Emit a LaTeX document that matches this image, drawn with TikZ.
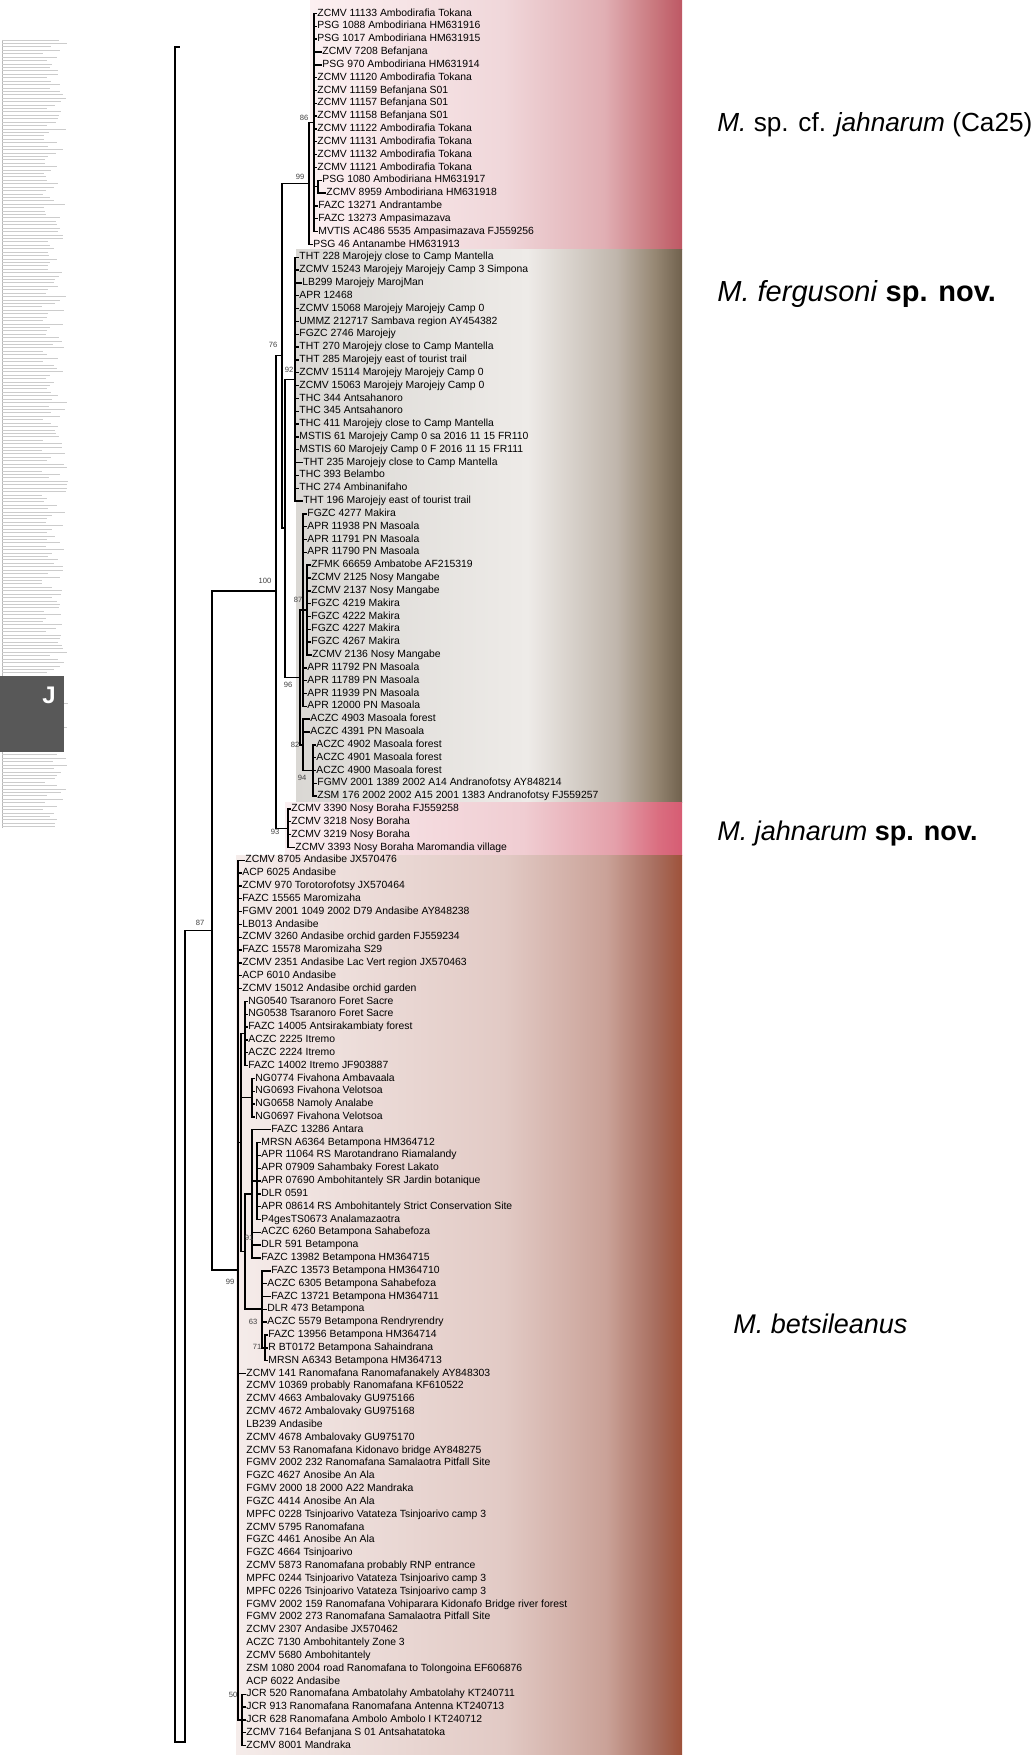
\documentclass[tikz,border=0pt]{standalone}
\usepackage{fontspec}
\setmainfont{Liberation Sans}

\definecolor{caA}{RGB}{252,240,241}
\definecolor{caB}{RGB}{240,215,218}
\definecolor{caC}{RGB}{225,175,180}
\definecolor{caD}{RGB}{202,122,128}
\definecolor{caE}{RGB}{190,88,100}
\definecolor{feA}{RGB}{218,216,212}
\definecolor{feB}{RGB}{238,235,232}
\definecolor{feC}{RGB}{192,182,172}
\definecolor{feD}{RGB}{150,135,115}
\definecolor{feE}{RGB}{112,97,77}
\definecolor{jaA}{RGB}{250,238,240}
\definecolor{jaB}{RGB}{240,205,210}
\definecolor{jaC}{RGB}{228,160,170}
\definecolor{jaD}{RGB}{218,110,128}
\definecolor{jaE}{RGB}{214,92,115}
\definecolor{beA}{RGB}{245,236,234}
\definecolor{beB}{RGB}{226,202,197}
\definecolor{beC}{RGB}{202,162,152}
\definecolor{beD}{RGB}{168,110,95}
\definecolor{beE}{RGB}{158,82,58}
\definecolor{jgray}{RGB}{88,88,88}

\pgfdeclarehorizontalshading{bandCa}{100bp}{color(0bp)=(caA); color(25bp)=(caA); color(51bp)=(caB); color(64.5bp)=(caC); color(71bp)=(caD); color(75bp)=(caE); color(100bp)=(caE)}
\pgfdeclarehorizontalshading{bandFe}{100bp}{color(0bp)=(feA); color(25bp)=(feA); color(55bp)=(feB); color(66.5bp)=(feC); color(71.5bp)=(feD); color(75bp)=(feE); color(100bp)=(feE)}
\pgfdeclarehorizontalshading{bandJa}{100bp}{color(0bp)=(jaA); color(25bp)=(jaA); color(55bp)=(jaB); color(66.5bp)=(jaC); color(72bp)=(jaD); color(75bp)=(jaE); color(100bp)=(jaE)}
\pgfdeclarehorizontalshading{bandBe}{100bp}{color(0bp)=(beA); color(25bp)=(beA); color(55bp)=(beB); color(66.5bp)=(beC); color(72bp)=(beD); color(75bp)=(beE); color(100bp)=(beE)}

\begin{document}
\begin{tikzpicture}[x=0.5pt, y=-0.5pt,
          taxon/.style={anchor=west, inner sep=0.5pt, text height=3.6pt, text depth=1pt, font=\fontsize{5.2}{6}\selectfont},
          branch/.style={line width=0.7pt, line cap=rect},
          support/.style={inner sep=0pt, font=\fontsize{3.8}{4}\selectfont, text=black!75},
          clade/.style={anchor=west, inner sep=0pt, font=\fontsize{13.5}{15}\selectfont},
          thumb/.style={draw=gray!40, line width=0.35pt}]

        \useasboundingbox (0,0) rectangle (1033,1755);

        \shade [shading=bandCa] (310,0) rectangle (682,250);
        \shade [shading=bandFe] (296,250) rectangle (682,802);
        \shade [shading=bandJa] (285,802) rectangle (682,855);
        \shade [shading=bandBe] (236,855) rectangle (682,1755);

        \draw [thumb, draw=gray!55] (2,40) -- (2,828);
        \pgfmathsetseed{11}
        \foreach \k in {0,...,230} {
          \pgfmathsetmacro{\tl}{40+26*rnd}
          \draw [thumb] (2,{40+\k*3.42}) -- ++(\tl,0);
        }
        \fill [jgray] (0,676) rectangle (64,752);
        \node [font=\bfseries\fontsize{12}{12}\selectfont, text=white] (jmark) at (49,695) {J};

        \foreach \lx/\txt [count=\i] in {
          316/ZCMV 11133 Ambodirafia Tokana, 316/PSG 1088 Ambodiriana HM631916, 316/PSG 1017 Ambodiriana HM631915,
          321/ZCMV 7208 Befanjana, 321/PSG 970 Ambodiriana HM631914, 316/ZCMV 11120 Ambodirafia Tokana,
          316/ZCMV 11159 Befanjana S01, 316/ZCMV 11157 Befanjana S01, 316/ZCMV 11158 Befanjana S01,
          316/ZCMV 11122 Ambodirafia Tokana, 316/ZCMV 11131 Ambodirafia Tokana, 316/ZCMV 11132 Ambodirafia Tokana,
          316/ZCMV 11121 Ambodirafia Tokana, 321/PSG 1080 Ambodiriana HM631917, 325/ZCMV 8959 Ambodiriana HM631918,
          317/FAZC 13271 Andrantambe, 317/FAZC 13273 Ampasimazava, 317/MVTIS AC486 5535 Ampasimazava FJ559256,
          312/PSG 46 Antanambe HM631913,
          298/THT 228 Marojejy close to Camp Mantella, 298/ZCMV 15243 Marojejy Marojejy Camp 3 Simpona,
          301/LB299 Marojejy MarojMan, 298/APR 12468, 298/ZCMV 15068 Marojejy Marojejy Camp 0,
          298/UMMZ 212717 Sambava region AY454382, 298/FGZC 2746 Marojejy, 298/THT 270 Marojejy close to Camp Mantella,
          298/THT 285 Marojejy east of tourist trail, 298/ZCMV 15114 Marojejy Marojejy Camp 0,
          298/ZCMV 15063 Marojejy Marojejy Camp 0, 298/THC 344 Antsahanoro, 298/THC 345 Antsahanoro,
          298/THC 411 Marojejy close to Camp Mantella, 298/MSTIS 61 Marojejy Camp 0 sa 2016 11 15 FR110,
          298/MSTIS 60 Marojejy Camp 0 F 2016 11 15 FR111, 302/THT 235 Marojejy close to Camp Mantella,
          298/THC 393 Belambo, 298/THC 274 Ambinanifaho, 302/THT 196 Marojejy east of tourist trail,
          306/FGZC 4277 Makira, 306/APR 11938 PN Masoala, 306/APR 11791 PN Masoala, 306/APR 11790 PN Masoala,
          310/ZFMK 66659 Ambatobe AF215319, 310/ZCMV 2125 Nosy Mangabe, 310/ZCMV 2137 Nosy Mangabe,
          310/FGZC 4219 Makira, 310/FGZC 4222 Makira, 310/FGZC 4227 Makira, 310/FGZC 4267 Makira,
          311/ZCMV 2136 Nosy Mangabe, 306/APR 11792 PN Masoala, 306/APR 11789 PN Masoala,
          306/APR 11939 PN Masoala, 306/APR 12000 PN Masoala, 309/ACZC 4903 Masoala forest,
          309/ACZC 4391 PN Masoala, 315/ACZC 4902 Masoala forest, 315/ACZC 4901 Masoala forest,
          315/ACZC 4900 Masoala forest, 316/FGMV 2001 1389 2002 A14 Andranofotsy AY848214,
          316/ZSM 176 2002 2002 A15 2001 1383 Andranofotsy FJ559257,
          290/ZCMV 3390 Nosy Boraha FJ559258, 290/ZCMV 3218 Nosy Boraha, 290/ZCMV 3219 Nosy Boraha,
          294/ZCMV 3393 Nosy Boraha Maromandia village,
          244/ZCMV 8705 Andasibe JX570476, 241/ACP 6025 Andasibe, 241/ZCMV 970 Torotorofotsy JX570464,
          241/FAZC 15565 Maromizaha, 241/FGMV 2001 1049 2002 D79 Andasibe AY848238, 241/LB013 Andasibe,
          241/ZCMV 3260 Andasibe orchid garden FJ559234, 241/FAZC 15578 Maromizaha S29,
          241/ZCMV 2351 Andasibe Lac Vert region JX570463, 241/ACP 6010 Andasibe, 241/ZCMV 15012 Andasibe orchid garden,
          247/NG0540 Tsaranoro Foret Sacre, 247/NG0538 Tsaranoro Foret Sacre, 247/FAZC 14005 Antsirakambiaty forest,
          247/ACZC 2225 Itremo, 247/ACZC 2224 Itremo, 247/FAZC 14002 Itremo JF903887,
          254/NG0774 Fivahona Ambavaala, 254/NG0693 Fivahona Velotsoa, 254/NG0658 Namoly Analabe,
          254/NG0697 Fivahona Velotsoa, 270/FAZC 13286 Antara, 260/MRSN A6364 Betampona HM364712,
          260/APR 11064 RS Marotandrano Riamalandy, 260/APR 07909 Sahambaky Forest Lakato,
          260/APR 07690 Ambohitantely SR Jardin botanique, 260/DLR 0591,
          260/APR 08614 RS Ambohitantely Strict Conservation Site, 260/P4gesTS0673 Analamazaotra,
          260/ACZC 6260 Betampona Sahabefoza, 260/DLR 591 Betampona, 260/FAZC 13982 Betampona HM364715,
          270/FAZC 13573 Betampona HM364710, 266/ACZC 6305 Betampona Sahabefoza, 270/FAZC 13721 Betampona HM364711,
          266/DLR 473 Betampona, 266/ACZC 5579 Betampona Rendryrendry, 267/FAZC 13956 Betampona HM364714,
          267/R BT0172 Betampona Sahaindrana, 267/MRSN A6343 Betampona HM364713,
          245/ZCMV 141 Ranomafana Ranomafanakely AY848303, 245/ZCMV 10369 probably Ranomafana KF610522,
          245/ZCMV 4663 Ambalovaky GU975166, 245/ZCMV 4672 Ambalovaky GU975168, 245/LB239 Andasibe,
          245/ZCMV 4678 Ambalovaky GU975170, 245/ZCMV 53 Ranomafana Kidonavo bridge AY848275,
          245/FGMV 2002 232 Ranomafana Samalaotra Pitfall Site, 245/FGZC 4627 Anosibe An Ala,
          245/FGMV 2000 18 2000 A22 Mandraka, 245/FGZC 4414 Anosibe An Ala,
          245/MPFC 0228 Tsinjoarivo Vatateza Tsinjoarivo camp 3, 245/ZCMV 5795 Ranomafana,
          245/FGZC 4461 Anosibe An Ala, 245/FGZC 4664 Tsinjoarivo, 245/ZCMV 5873 Ranomafana probably RNP entrance,
          245/MPFC 0244 Tsinjoarivo Vatateza Tsinjoarivo camp 3, 245/MPFC 0226 Tsinjoarivo Vatateza Tsinjoarivo camp 3,
          245/FGMV 2002 159 Ranomafana Vohiparara Kidonafo Bridge river forest,
          245/FGMV 2002 273 Ranomafana Samalaotra Pitfall Site, 245/ZCMV 2307 Andasibe JX570462,
          245/ACZC 7130 Ambohitantely Zone 3, 245/ZCMV 5680 Ambohitantely,
          245/ZSM 1080 2004 road Ranomafana to Tolongoina EF606876, 245/ACP 6022 Andasibe,
          245/JCR 520 Ranomafana Ambatolahy Ambatolahy KT240711, 245/JCR 913 Ranomafana Ranomafana Antenna KT240713,
          245/JCR 628 Ranomafana Ambolo Ambolo I KT240712, 245/ZCMV 7164 Befanjana S 01 Antsahatatoka,
          245/ZCMV 8001 Mandraka}
          \node [taxon] (t\i) at (\lx,{13.5+(\i-1)*12.83}) {\txt};

        \coordinate (root) at (175,894);
        \coordinate (og) at (179,47);
        \coordinate (nA) at (185,1742);
        \coordinate (n87) at (212,930.5);
        \coordinate (n100) at (276,591);
        \coordinate (n76) at (282,355.5);
        \coordinate (nCa) at (309,183.5);
        \coordinate (n86) at (314,122.6);
        \coordinate (n1415) at (318,186.7);
        \coordinate (nFer) at (285,528);
        \coordinate (n92) at (295,379.2);
        \coordinate (n96) at (300,677.5);
        \coordinate (nM1) at (303,610.1);
        \coordinate (n87b) at (307,610.1);
        \coordinate (nM2) at (303,744.8);
        \coordinate (n94) at (313,770.5);
        \coordinate (nJah) at (288,828.2);
        \coordinate (nBet) at (238,1270);
        \coordinate (nP) at (241,1142.5);
        \coordinate (nS1) at (245,1033.5);
        \coordinate (nS2) at (252,1097.6);
        \coordinate (n91) at (245,1251.5);
        \coordinate (nS3) at (252,1193.9);
        \coordinate (nS3a) at (257,1181);
        \coordinate (nS4) at (262,1309);
        \coordinate (n71) at (265,1347.8);
        \coordinate (n50) at (242,1719.9);

        \draw [branch] (root) |- (og);
        \draw [branch] (root) |- (nA);
        \draw [branch] (nA) |- (n87);
        \draw [branch] (n87) |- (n100);
        \draw [branch] (n87) |- (nBet);
        \draw [branch] (n100) |- (n76);
        \draw [branch] (n100) |- (nJah);
        \draw [branch] (n76) |- (nCa);
        \draw [branch] (n76) |- (nFer);
        \draw [branch] (nCa) |- (n86);
        \draw [branch] (nCa) |- (t19.west);
        \draw [branch] (n86) |- (n1415);
        \foreach \i in {1,...,13,16,17,18} \draw [branch] (n86) |- (t\i.west);
        \foreach \i in {14,15} \draw [branch] (n1415) |- (t\i.west);
        \draw [branch] (nFer) |- (n92);
        \draw [branch] (nFer) |- (n96);
        \foreach \i in {20,...,39} \draw [branch] (n92) |- (t\i.west);
        \draw [branch] (n96) |- (nM1);
        \draw [branch] (n96) |- (nM2);
        \draw [branch] (nM1) -- (n87b);
        \foreach \i in {40,...,43,52,53,54,55} \draw [branch] (nM1) |- (t\i.west);
        \foreach \i in {44,...,51} \draw [branch] (n87b) |- (t\i.west);
        \draw [branch] (nM2) |- (n94);
        \foreach \i in {56,57} \draw [branch] (nM2) |- (t\i.west);
        \foreach \i in {58,...,62} \draw [branch] (n94) |- (t\i.west);
        \foreach \i in {63,...,66} \draw [branch] (nJah) |- (t\i.west);
        \draw [branch] (nBet) |- (nP);
        \draw [branch] (nBet) |- (n50);
        \foreach \i in {67,...,77,107,...,131} \draw [branch] (nBet) |- (t\i.west);
        \draw [branch] (nP) |- (nS1);
        \draw [branch] (nP) |- (nS2);
        \draw [branch] (nP) |- (n91);
        \foreach \i in {78,...,83} \draw [branch] (nS1) |- (t\i.west);
        \foreach \i in {84,...,87} \draw [branch] (nS2) |- (t\i.west);
        \draw [branch] (n91) |- (nS3);
        \draw [branch] (n91) |- (nS4);
        \draw [branch] (nS3) |- (nS3a);
        \foreach \i in {88,96,97,98} \draw [branch] (nS3) |- (t\i.west);
        \foreach \i in {89,...,95} \draw [branch] (nS3a) |- (t\i.west);
        \draw [branch] (nS4) |- (n71);
        \foreach \i in {99,...,103} \draw [branch] (nS4) |- (t\i.west);
        \foreach \i in {104,105,106} \draw [branch] (n71) |- (t\i.west);
        \foreach \i in {132,...,136} \draw [branch] (n50) |- (t\i.west);

        \node [support] (s86) at (304,118) {86};
        \node [support] (sCa) at (300,177) {99};
        \node [support] (s76) at (273,345) {76};
        \node [support] (s92) at (289,370) {92};
        \node [support] (s100) at (265,581) {100};
        \node [support] (s87b) at (298,600) {87};
        \node [support] (s96) at (288,685) {96};
        \node [support] (s82) at (295,745) {82};
        \node [support] (s94) at (302,778) {94};
        \node [support] (s93) at (275,832) {93};
        \node [support] (s87) at (200,923) {87};
        \node [support] (sBet) at (230,1282) {99};
        \node [support] (s91) at (249,1238) {91};
        \node [support] (s63) at (253,1322) {63};
        \node [support] (s71) at (257,1347) {71};
        \node [support] (s50) at (233,1695) {50};

        \node [clade, font=\fontsize{13.1}{15}\selectfont] (lCa) at (717,125) {\textit{M.} sp. cf. \textit{jahnarum} (Ca25)};
        \node [clade, font=\fontsize{14.5}{16}\selectfont] (lFer) at (717,294) {\textit{M. fergusoni} \textbf{sp. nov.}};
        \node [clade] (lJah) at (717,834) {\textit{M. jahnarum} \textbf{sp. nov.}};
        \node [clade] (lBet) at (733,1324) {\textit{M. betsileanus}};
      \end{tikzpicture}
\end{document}
